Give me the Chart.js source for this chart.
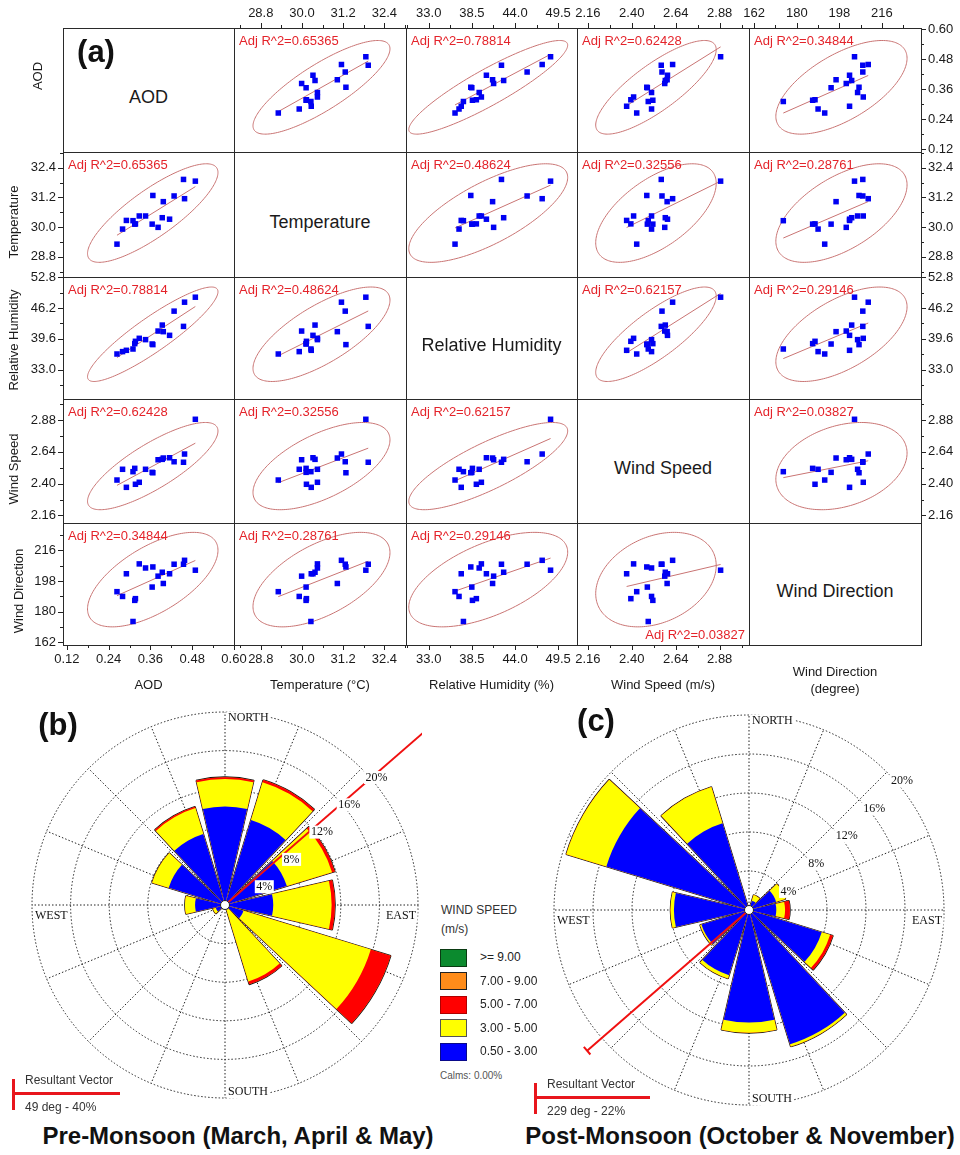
<!DOCTYPE html>
<html>
<head>
<meta charset="utf-8">
<title>Scatter matrix and wind roses</title>
<script src="https://cdn.jsdelivr.net/npm/chart.js@4.4.1/dist/chart.umd.min.js"></script>
<style>
  html, body { margin: 0; padding: 0; background: #fff; }
  #page { position: relative; width: 960px; height: 1155px; overflow: hidden;
          font-family: 'Liberation Sans', Arial, sans-serif; color: #1a1a1a; }
  #page canvas { position: absolute; }
  .t { position: absolute; white-space: nowrap; line-height: 1; }
</style>
</head>
<body>
<div id="page"></div>
<script>
// ---- scatter matrix data (18 samples) ----
const aod = [0.264, 0.280, 0.291, 0.310, 0.315, 0.317, 0.328, 0.346, 0.365, 0.367, 0.382, 0.394, 0.397, 0.415, 0.428, 0.455, 0.458, 0.489];
const temperature = [29.31, 29.92, 30.27, 30.26, 30.12, 30.13, 30.45, 30.45, 30.12, 31.28, 29.99, 30.38, 31.03, 30.32, 31.26, 31.93, 31.15, 31.86];
const humidity = [36.35, 36.86, 37.14, 37.42, 38.57, 39.07, 39.71, 39.43, 38.49, 38.36, 41.27, 42.55, 41.14, 40.35, 45.54, 42.27, 47.46, 48.53];
const windSpeed = [2.427, 2.508, 2.372, 2.490, 2.515, 2.395, 2.410, 2.508, 2.485, 2.482, 2.580, 2.583, 2.593, 2.595, 2.565, 2.561, 2.623, 2.885];
const windDirection = [191.8, 189.0, 202.3, 174.3, 186.7, 187.7, 208.1, 205.7, 194.5, 206.3, 200.9, 203.2, 196.6, 202.3, 207.9, 207.9, 210.2, 204.4];

const varNames = ['AOD', 'Temperature', 'Relative Humidity', 'Wind Speed', 'Wind Direction'];
const axisTitles = ['AOD', 'Temperature (°C)', 'Relative Humidity (%)', 'Wind Speed (m/s)'];

// tick labels
const aodTicks = [0.12, 0.24, 0.36, 0.48, 0.60];
const tempTicks = [28.8, 30.0, 31.2, 32.4];
const rhTicksX = [33.0, 38.5, 44.0, 49.5];
const rhTicksY = [33.0, 39.6, 46.2, 52.8];
const wsTicks = [2.16, 2.40, 2.64, 2.88];
const wdTicks = [162, 180, 198, 216];

// adjusted R^2 printed in each panel (row = y variable, col = x variable)
const adjR2 = [
  [null, '0.65365', '0.78814', '0.62428', '0.34844'],
  ['0.65365', null, '0.48624', '0.32556', '0.28761'],
  ['0.78814', '0.48624', null, '0.62157', '0.29146'],
  ['0.62428', '0.32556', '0.62157', null, '0.03827'],
  ['0.34844', '0.28761', '0.29146', '0.03827', null]
];

// ---- wind roses, % of time per 30 degree sector ----
const roseDirs = [0, 30, 60, 90, 120, 150, 180, 210, 240, 270, 300, 330];
const speedClasses = ['0.50 - 3.00', '3.00 - 5.00', '5.00 - 7.00', '7.00 - 9.00', '>= 9.00'];
const speedColors = ['#0000ff', '#ffff00', '#ff0000', '#ff8c1a', '#0b8a2e'];

const preBlue   = [10.2, 9.2, 6.7, 5.0, 2.0, 0.5, 0, 0, 1.0, 3.1, 6.1, 7.7];
const preYellow = [2.85, 4.1, 4.9, 6.05, 13.8, 7.8, 0, 0, 0.3, 1.05, 1.8, 2.8];
const preRed    = [0.2, 0.25, 0.3, 0.35, 2.15, 0.3, 0, 0, 0, 0, 0, 0.15];
const preOrange = [0, 0, 0, 0, 0, 0, 0, 0, 0, 0, 0, 0];
const preGreen  = [0, 0, 0, 0, 0, 0, 0, 0, 0, 0, 0, 0];

const postBlue   = [0, 1.0, 2.9, 2.8, 7.8, 14.4, 11.55, 7.0, 5.1, 7.7, 15.3, 9.3];
const postYellow = [0, 0.6, 1.0, 0.9, 0.9, 0.25, 1.05, 0.35, 0.15, 0.35, 4.3, 3.9];
const postRed    = [0, 0, 0, 0.5, 0.3, 0, 0, 0, 0, 0, 0, 0];
const postOrange = [0, 0, 0, 0, 0, 0, 0, 0, 0, 0, 0, 0];
const postGreen  = [0, 0, 0, 0, 0, 0, 0, 0, 0, 0, 0, 0];

const preVector = [49, 40];    // deg, %
const postVector = [229, 22];
const calms = '0.00';

// ---- layout ----
const page = document.getElementById('page');
Chart.defaults.font.family = "'Liberation Sans', Arial, sans-serif";
Chart.defaults.font.size = 13;
Chart.defaults.color = '#1a1a1a';

function text(str, x, y, o) {
  o = o || {};
  const d = document.createElement('div');
  d.className = 't';
  d.textContent = str;
  d.style.left = x + 'px';
  d.style.top = y + 'px';
  d.style.fontSize = (o.size || 13) + 'px';
  if (o.weight) d.style.fontWeight = o.weight;
  if (o.color) d.style.color = o.color;
  const sx = { c: '-50%', l: '0', r: '-100%' }[o.anchor || 'c'];
  d.style.transform = 'translate(' + sx + ',-50%)' + (o.rotate ? ' rotate(-90deg)' : '');
  if (o.z) d.style.zIndex = o.z;
  page.appendChild(d);
  return d;
}

function box(x, y, w, h, css) {
  const d = document.createElement('div');
  d.style.position = 'absolute';
  d.style.left = x + 'px'; d.style.top = y + 'px';
  d.style.width = w + 'px'; d.style.height = h + 'px';
  Object.assign(d.style, css || {});
  page.appendChild(d);
  return d;
}

function makeCanvas(x, y, w, h) {
  const cv = document.createElement('canvas');
  cv.width = w; cv.height = h;
  cv.style.left = x + 'px'; cv.style.top = y + 'px';
  cv.style.width = w + 'px'; cv.style.height = h + 'px';
  page.appendChild(cv);
  return cv;
}

// ---- (a) scatter matrix ----
const colX = [63, 234, 406, 577, 749, 921];
const rowY = [28, 152, 277, 399, 523, 645];
const series = [aod, temperature, humidity, windSpeed, windDirection];
const xTickSets = [aodTicks, tempTicks, rhTicksX, wsTicks, wdTicks];
const yTickSets = [aodTicks, tempTicks, rhTicksY, wsTicks, wdTicks];
const decimals = [2, 1, 1, 2, 0];
const xLimits = [[0.109, 0.600], [28.02, 33.03], [30.1, 51.9], [2.101, 3.04], [159.8, 232.5]];
const yLimits = [[0.108, 0.604], [27.98, 33.04], [26.7, 52.86], [2.103, 3.038], [160.5, 232.1]];
const ELLIPSE_K = 2.855;   // 95% prediction ellipse, n = 18
const fitColor = '#c97473';
const EXTRA = 18;          // room round each canvas so edge labels are not cut

function tickValues(majors, lo, hi) {
  const step = (majors[1] - majors[0]) / 2;
  const out = [];
  for (let k = -2; k <= 2 * (majors.length - 1) + 2; k++) {
    const v = +(majors[0] + k * step).toFixed(6);
    if (v >= lo - 1e-6 && v <= hi + 1e-6) out.push(v);
  }
  return out;
}

function axisOpts(key, lim, majors, dec, pos, size) {
  const vals = tickValues(majors, lim[0], lim[1]);
  const horiz = key === 'x';
  return {
    type: 'linear', min: lim[0], max: lim[1],
    display: !!pos,
    position: pos || (horiz ? 'bottom' : 'left'),
    grid: { display: false, drawTicks: true, tickLength: 5 },
    border: { display: false },
    ticks: {
      autoSkip: false, maxRotation: 0, minRotation: 0, padding: 2,
      color: '#1a1a1a', font: { size: 13 },
      callback: v => majors.some(m => Math.abs(m - v) < 1e-6) ? v.toFixed(dec) : ''
    },
    afterBuildTicks: s => { s.ticks = vals.map(v => ({ value: v })); },
    afterFit: s => {
      if (pos) { if (horiz) s.height = size; else s.width = size; }
      s.paddingLeft = s.paddingRight = s.paddingTop = s.paddingBottom = 0;
    }
  };
}

const cellPlugin = {
  id: 'cell',
  beforeDatasetsDraw(chart) {
    const xs = chart.scales.x, ys = chart.scales.y, area = chart.chartArea, ctx = chart.ctx;
    const pts = chart.data.datasets[0].data, n = pts.length;
    let mx = 0, my = 0;
    pts.forEach(p => { mx += p.x; my += p.y; });
    mx /= n; my /= n;
    let sxx = 0, syy = 0, sxy = 0;
    pts.forEach(p => { const dx = p.x - mx, dy = p.y - my; sxx += dx * dx; syy += dy * dy; sxy += dx * dy; });
    sxx /= n - 1; syy /= n - 1; sxy /= n - 1;
    const a = Math.sqrt(sxx), b = sxy / a, c = Math.sqrt(Math.max(syy - b * b, 0));
    ctx.save();
    ctx.beginPath(); ctx.rect(area.left, area.top, area.width, area.height); ctx.clip();
    ctx.strokeStyle = fitColor; ctx.lineWidth = 1;
    ctx.beginPath();
    for (let i = 0; i <= 180; i++) {
      const t = i / 180 * Math.PI * 2;
      const px = xs.getPixelForValue(mx + ELLIPSE_K * a * Math.cos(t));
      const py = ys.getPixelForValue(my + ELLIPSE_K * (b * Math.cos(t) + c * Math.sin(t)));
      if (i) ctx.lineTo(px, py); else ctx.moveTo(px, py);
    }
    ctx.stroke();
    // least squares line over the data range
    const slope = sxy / sxx, icpt = my - slope * mx;
    const xv = pts.map(p => p.x), x1 = Math.min(...xv), x2 = Math.max(...xv);
    ctx.beginPath();
    ctx.moveTo(xs.getPixelForValue(x1), ys.getPixelForValue(icpt + slope * x1));
    ctx.lineTo(xs.getPixelForValue(x2), ys.getPixelForValue(icpt + slope * x2));
    ctx.stroke();
    ctx.restore();
  },
  afterDraw(chart) {
    // major / minor tick marks
    const ctx = chart.ctx, area = chart.chartArea;
    ctx.save();
    ctx.strokeStyle = '#222'; ctx.lineWidth = 1;
    [chart.scales.x, chart.scales.y].forEach(s => {
      if (!s.options.display) return;
      s.ticks.forEach(t => {
        const len = t.label ? 5 : 3;
        const p = Math.round(s.getPixelForValue(t.value)) + 0.5;
        ctx.beginPath();
        if (s.position === 'left') { ctx.moveTo(area.left, p); ctx.lineTo(area.left - len, p); }
        else if (s.position === 'right') { ctx.moveTo(area.right, p); ctx.lineTo(area.right + len, p); }
        else if (s.position === 'top') { ctx.moveTo(p, area.top); ctx.lineTo(p, area.top - len); }
        else { ctx.moveTo(p, area.bottom); ctx.lineTo(p, area.bottom + len); }
        ctx.stroke();
      });
    });
    ctx.restore();
  }
};

for (let r = 0; r < 5; r++) {
  for (let c = 0; c < 5; c++) {
    const x0 = colX[c], y0 = rowY[r], w = colX[c + 1] - x0, h = rowY[r + 1] - y0;
    if (r === c) {
      text(varNames[r], x0 + w / 2, y0 + h / 2 + 7, { size: 18 });
      continue;
    }
    const L = c === 0 ? 50 : 0, R = c === 4 ? 39 : 0, T = r === 0 ? 22 : 0, B = r === 4 ? 22 : 0;
    const cv = makeCanvas(x0 - L - EXTRA, y0 - T - EXTRA, w + L + R + 2 * EXTRA, h + T + B + 2 * EXTRA);
    const pts = series[c].map((v, i) => ({ x: v, y: series[r][i] }));
    new Chart(cv, {
      type: 'scatter',
      data: { datasets: [{ data: pts, pointStyle: 'rect', pointRadius: 3.9, pointBorderWidth: 0,
                           backgroundColor: '#0000f2', borderColor: '#0000f2' }] },
      options: {
        responsive: false, animation: false, events: [],
        layout: { padding: EXTRA, autoPadding: false },
        plugins: { legend: { display: false }, tooltip: { enabled: false } },
        scales: {
          x: axisOpts('x', xLimits[c], xTickSets[c], decimals[c], r === 0 ? 'top' : (r === 4 ? 'bottom' : null), r === 0 ? T : B),
          y: axisOpts('y', yLimits[r], yTickSets[r], decimals[r], c === 0 ? 'left' : (c === 4 ? 'right' : null), c === 0 ? L : R)
        }
      },
      plugins: [cellPlugin]
    });
    const lab = 'Adj R^2=' + adjR2[r][c];
    if (r === 4 && c === 3) text(lab, x0 + w - 4, y0 + h - 11, { color: '#e4232a', anchor: 'r' });
    else text(lab, x0 + 5, y0 + 12, { color: '#e4232a', anchor: 'l' });
  }
}

// cell borders
colX.forEach(x => box(x, rowY[0], 1, rowY[5] - rowY[0] + 1, { background: '#2a2a2a' }));
rowY.forEach(y => box(colX[0], y, colX[5] - colX[0] + 1, 1, { background: '#2a2a2a' }));

// axis titles
text('(a)', 96, 51, { size: 31, weight: 'bold', color: '#111' });
const leftTitlePos = [[37, 76], [13, 222], [13, 340], [13, 469], [18, 591]];
varNames.forEach((nm, i) => text(nm, leftTitlePos[i][0], leftTitlePos[i][1], { rotate: true }));
axisTitles.forEach((nm, i) => text(nm, (colX[i] + colX[i + 1]) / 2, 684));
text('Wind Direction', (colX[4] + colX[5]) / 2, 671);
text('(degree)', (colX[4] + colX[5]) / 2, 688);

// ---- (b), (c) wind roses ----
const WEDGE = 26, GAP = 4;

const rosePlugin = {
  id: 'rose',
  beforeDatasetsDraw(chart) {
    const s = chart.scales.r, ctx = chart.ctx;
    const R = s.getDistanceFromCenterForValue(s.max);
    ctx.save();
    ctx.strokeStyle = '#222'; ctx.lineWidth = 1; ctx.setLineDash([1.5, 2]);
    for (let k = 0; k < 16; k++) {
      const a = k * 22.5 * Math.PI / 180;
      ctx.beginPath();
      ctx.moveTo(s.xCenter, s.yCenter);
      ctx.lineTo(s.xCenter + R * Math.sin(a), s.yCenter - R * Math.cos(a));
      ctx.stroke();
    }
    ctx.restore();
  },
  afterDatasetsDraw(chart, args, opts) {
    const s = chart.scales.r, ctx = chart.ctx, cx = s.xCenter, cy = s.yCenter;
    const R = s.getDistanceFromCenterForValue(s.max);
    ctx.save();
    // resultant vector
    const a = opts.vector[0] * Math.PI / 180, len = s.getDistanceFromCenterForValue(opts.vector[1]);
    const ex = cx + len * Math.sin(a), ey = cy - len * Math.cos(a);
    ctx.strokeStyle = '#f01010'; ctx.lineWidth = 2;
    ctx.beginPath(); ctx.moveTo(cx, cy); ctx.lineTo(ex, ey); ctx.stroke();
    ctx.beginPath();
    ctx.moveTo(ex - 5 * Math.cos(a), ey - 5 * Math.sin(a));
    ctx.lineTo(ex + 5 * Math.cos(a), ey + 5 * Math.sin(a));
    ctx.stroke();
    // centre dot
    ctx.fillStyle = '#fff'; ctx.strokeStyle = '#222'; ctx.lineWidth = 1;
    ctx.beginPath(); ctx.arc(cx, cy, 4.5, 0, Math.PI * 2); ctx.fill(); ctx.stroke();
    // labels
    ctx.font = "12px 'Liberation Serif', serif";
    ctx.textBaseline = 'middle';
    const boxed = (str, x, y, align) => {
      const w = ctx.measureText(str).width;
      const left = align === 'right' ? x - w : x;
      ctx.fillStyle = '#fff';
      ctx.fillRect(left - 1.5, y - 6.5, w + 3, 13);
      ctx.fillStyle = '#111';
      ctx.textAlign = 'left';
      ctx.fillText(str, left, y);
    };
    s.ticks.forEach(t => {
      if (t.value <= 0) return;
      const d = s.getDistanceFromCenterForValue(t.value);
      boxed(t.value + '%', cx + d * Math.SQRT1_2 + 4, cy - d * Math.SQRT1_2 + 9, 'left');
    });
    boxed('NORTH', cx + 3, cy - R + 6, 'left');
    boxed('SOUTH', cx + 3, cy + R - 6, 'left');
    boxed('EAST', cx + R - 2, cy + 11, 'right');
    boxed('WEST', cx - R + 3, cy + 11, 'left');
    ctx.restore();
  }
};

function rose(x, y, w, h, pad, classes, vector) {
  const cv = makeCanvas(x, y, w, h);
  let run = roseDirs.map(() => 0);
  const cum = classes.map(vals => (run = run.map((v, i) => v + vals[i])));
  new Chart(cv, {
    type: 'polarArea',
    data: {
      labels: roseDirs.flatMap(d => [d + '°', '']),
      datasets: cum.map((vals, k) => ({
        data: vals.flatMap(v => [v, 0]),
        backgroundColor: speedColors[k],
        borderColor: '#111',
        borderWidth: k === cum.length - 1 ? 1.6 : 0,
        angle: ctx => (ctx.dataIndex % 2 ? GAP : WEDGE)
      }))
    },
    options: {
      responsive: false, animation: false, events: [],
      layout: { padding: pad, autoPadding: false },
      plugins: { legend: { display: false }, tooltip: { enabled: false }, rose: { vector } },
      scales: {
        r: {
          min: 0, max: 20, startAngle: -WEDGE / 2,
          ticks: { display: false, stepSize: 4 },
          grid: { circular: true, color: '#222', lineWidth: 1, borderDash: [1.5, 2] },
          border: { dash: [1.5, 2] },
          angleLines: { display: false },
          pointLabels: { display: false }
        }
      }
    },
    plugins: [rosePlugin]
  });
}

rose(0, 700, 422, 410, { left: 32, right: 4, top: 12, bottom: 12 },
     [preBlue, preYellow, preRed, preOrange, preGreen], preVector);
rose(530, 700, 430, 420, { left: 24, right: 16, top: 15, bottom: 15 },
     [postBlue, postYellow, postRed, postOrange, postGreen], postVector);

text('(b)', 58, 724, { size: 31, weight: 'bold', color: '#111' });
text('(c)', 596, 720, { size: 31, weight: 'bold', color: '#111' });

// wind speed legend
text('WIND SPEED', 441, 910, { size: 12, anchor: 'l', color: '#333' });
text('(m/s)', 441, 929, { size: 12, anchor: 'l', color: '#333' });
const legendBorders = ['#0a0a8a', '#555', '#b00000', '#222', '#0a3a12'];
[4, 3, 2, 1, 0].forEach((k, i) => {
  const yy = 957 + i * 23.5;
  box(440, yy - 8.5, 25, 16, { background: speedColors[k], border: '1px solid ' + legendBorders[k], zIndex: 3 });
  text(speedClasses[k], 480, yy, { size: 12, anchor: 'l', color: '#222', z: 3 });
});
text('Calms: ' + calms + '%', 440, 1076, { size: 10, anchor: 'l', color: '#555' });

// resultant vector keys
function vectorKey(x, y, lineW, vec) {
  box(x, y - 14, 2.5, 31, { background: '#e8161c' });
  box(x, y - 1, lineW, 3, { background: '#e8161c' });
  text('Resultant Vector', x + 13, y - 13, { size: 12, anchor: 'l', color: '#333' });
  text(vec[0] + ' deg - ' + vec[1] + '%', x + 13, y + 14, { size: 12, anchor: 'l', color: '#333' });
}
vectorKey(12, 1093, 108, preVector);
vectorKey(534, 1097, 116, postVector);

text('Pre-Monsoon (March, April & May)', 238, 1136, { size: 24, weight: 'bold', color: '#111' });
text('Post-Monsoon (October & November)', 740, 1136, { size: 24, weight: 'bold', color: '#111' });
</script>
</body>
</html>
